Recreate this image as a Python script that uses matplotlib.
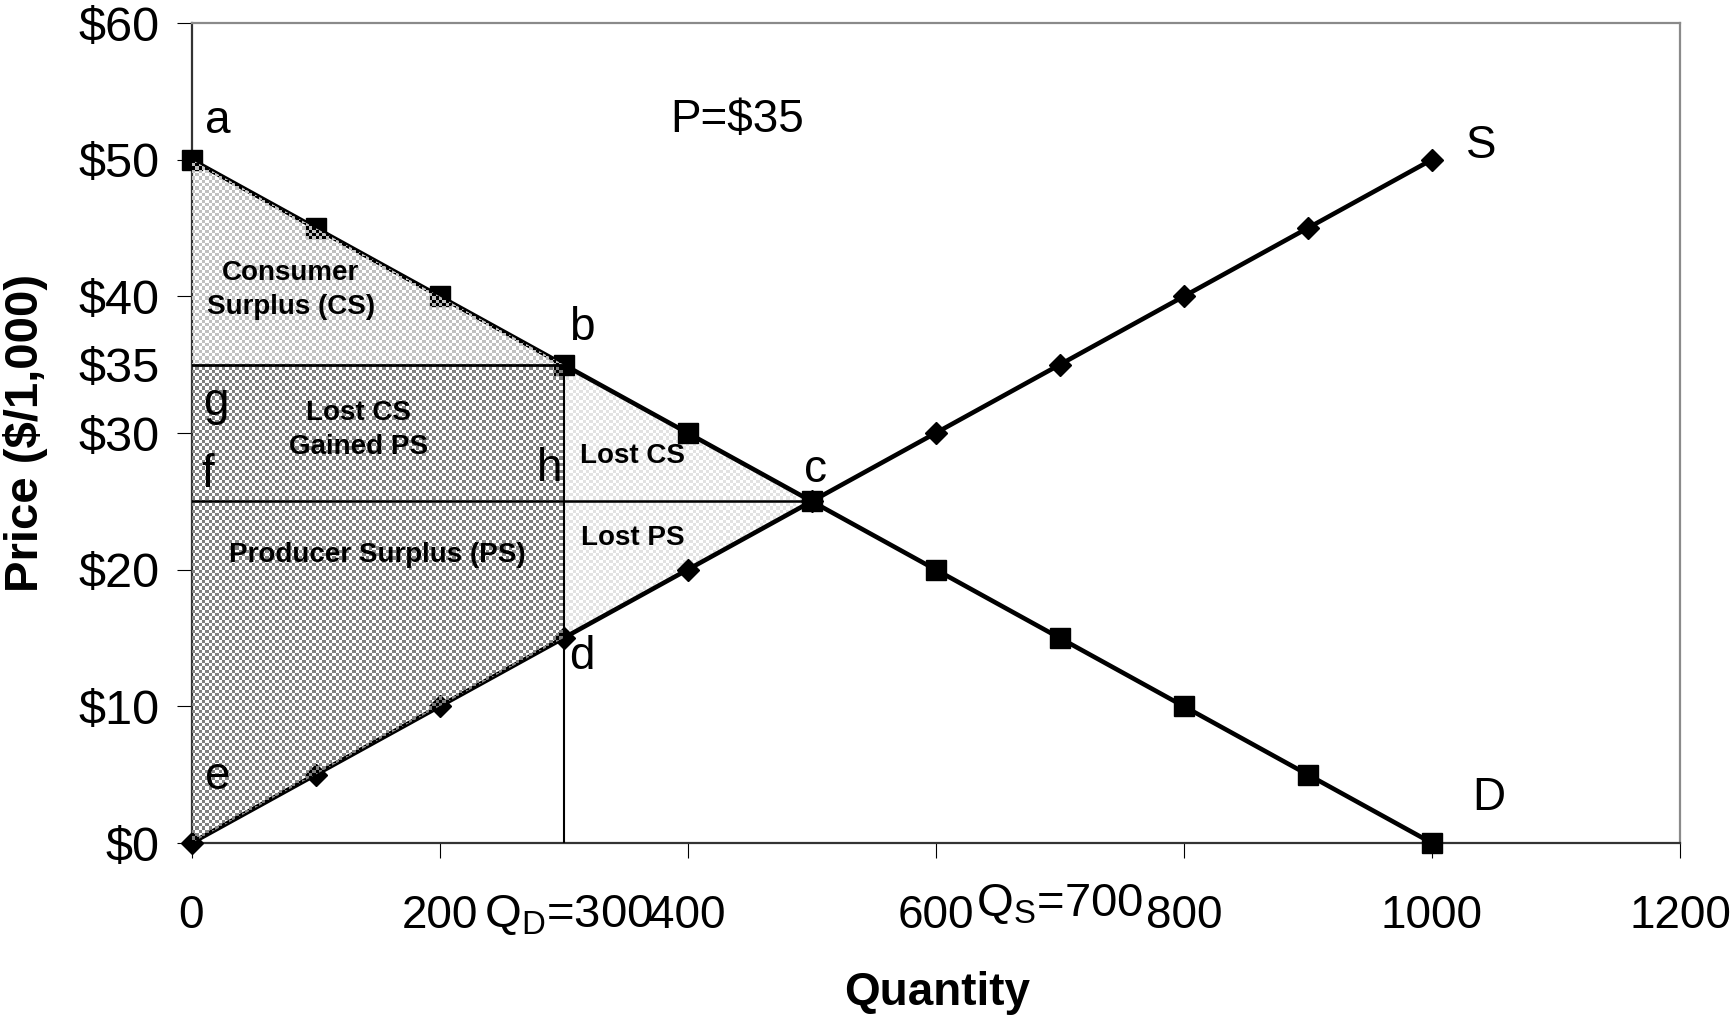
import numpy as np
import matplotlib
matplotlib.use("Agg")
import matplotlib.pyplot as plt
from matplotlib.patches import Polygon
from matplotlib.colors import ListedColormap

plt.rcParams["font.family"] = ["Liberation Sans", "DejaVu Sans"]
plt.rcParams["mathtext.fontset"] = "custom"
plt.rcParams["mathtext.rm"] = "Liberation Sans"
plt.rcParams["mathtext.it"] = "Liberation Sans:italic"
plt.rcParams["mathtext.bf"] = "Liberation Sans:bold"

# ---- data -------------------------------------------------------------
quantity = [0, 100, 200, 300, 400, 500, 600, 700, 800, 900, 1000]
demand_price = [50, 45, 40, 35, 30, 25, 20, 15, 10, 5, 0]
supply_price = [0, 5, 10, 15, 20, 25, 30, 35, 40, 45, 50]

floor_price = 35        # P = $35
q_demanded = 300        # Q_D at the floor price
q_supplied = 700        # Q_S at the floor price
eq_quantity = 500       # point c
eq_price = 25

y_ticks = [0, 10, 20, 30, 40, 50, 60]
y_tick_labels = ["$0", "$10", "$20", "$30", "$40", "$50", "$60"]
x_ticks = [0, 200, 400, 600, 800, 1000, 1200]
x_tick_labels = ["0", "200", "400", "600", "800", "1000", "1200"]

# ---- figure ------------------------------------------------------------
W, H = 1734, 1018
fig = plt.figure(figsize=(W / 100, H / 100), dpi=100)
ax_l, ax_r, ax_t, ax_b = 191.5, 1680, 23, 843
ax = fig.add_axes([ax_l / W, 1 - ax_b / H, (ax_r - ax_l) / W, (ax_b - ax_t) / H])
ax.set_xlim(0, 1200)
ax.set_ylim(0, 60)

d_at_qd = np.interp(q_demanded, quantity, demand_price)   # b
s_at_qd = np.interp(q_demanded, quantity, supply_price)   # d
top_p = demand_price[0]                                     # a
low_p = supply_price[0]                                     # e

# ---- dithered area fills ----------------------------------------------
cell = 3.33
ncols = int((ax_r - ax_l) / cell)
nrows = int((ax_b - ax_t) / cell)
board = np.add.outer(np.arange(nrows), np.arange(ncols)) % 2


def dither(verts, shade, z):
    poly = Polygon(verts, closed=True, facecolor="none", edgecolor="none")
    ax.add_patch(poly)
    im = ax.imshow(board, cmap=ListedColormap([(1, 1, 1, 0), shade]),
                   extent=(0, 1200, 0, 60), origin="lower", aspect="auto",
                   interpolation="nearest", zorder=z)
    im.set_clip_path(poly)


# lost consumer / producer surplus (deadweight loss) – faint
dither([(q_demanded, d_at_qd), (eq_quantity, eq_price), (q_demanded, eq_price)],
       "#e2e2e2", 1)
dither([(q_demanded, eq_price), (eq_quantity, eq_price), (q_demanded, s_at_qd)],
       "#e2e2e2", 1)

# supply / demand curves
ax.plot(quantity, demand_price, color="black", lw=3.3, marker="s", ms=14,
        clip_on=False, zorder=4)
ax.plot(quantity, supply_price, color="black", lw=3.3, marker="D", ms=11.5,
        clip_on=False, zorder=4)

# consumer surplus – light
dither([(0, top_p), (q_demanded, d_at_qd), (0, floor_price)], "#c0c0c0", 5)
# transfer rectangle + producer surplus – dark
dither([(0, floor_price), (q_demanded, floor_price), (q_demanded, s_at_qd),
        (0, low_p)], "#808080", 5)

# guide lines
ax.plot([0, q_demanded], [floor_price, floor_price], color="black", lw=2, zorder=6)
ax.plot([0, eq_quantity], [eq_price, eq_price], color="black", lw=1.8, zorder=6)
ax.plot([q_demanded, q_demanded], [0, floor_price], color="black", lw=1.5, zorder=6)

# ---- axes styling ------------------------------------------------------
for side in ("left", "bottom"):
    ax.spines[side].set_color("#333333")
    ax.spines[side].set_linewidth(1.6)
for side in ("top", "right"):
    ax.spines[side].set_color("#8a8a8a")
    ax.spines[side].set_linewidth(1.6)

ax.set_xticks(x_ticks)
ax.set_xticklabels(x_tick_labels)
ax.set_yticks(y_ticks)
ax.set_yticklabels(y_tick_labels)
ax.set_yticks([floor_price], minor=True)
ax.set_yticklabels([f"${floor_price}"], minor=True)
ax.tick_params(axis="both", which="major", direction="out", length=11,
               width=0.8, color="black")
ax.tick_params(axis="x", which="major", pad=26, labelsize=33)
ax.tick_params(axis="y", which="major", pad=12, labelsize=35)
ax.tick_params(axis="y", which="minor", length=0, labelsize=35, pad=23)

# Q_D and Q_S markers on the quantity axis
ax.annotate(r"Q$_{\mathregular{D}}$=" + str(q_demanded), xy=(q_demanded + 4, 91),
            xycoords=("data", "figure pixels"), ha="center", va="baseline",
            fontsize=34)
ax.annotate(r"Q$_{\mathregular{S}}$=" + str(q_supplied), xy=(q_supplied, 102),
            xycoords=("data", "figure pixels"), ha="center", va="baseline",
            fontsize=34)

fig.text(937 / W, 13 / H, "Quantity", ha="center", va="baseline",
         fontsize=33, fontweight="bold")
fig.text(26 / W, 1 - 433 / H, "Price ($/1,000)", ha="center", va="center",
         rotation=90, fontsize=34, fontweight="bold")

# ---- point letters -----------------------------------------------------
letters = [("a", 21, 52.8), ("b", 315, 37.7), ("c", 503, 27.3), ("d", 315, 13.6),
           ("e", 21, 4.8), ("f", 13, 26.9), ("g", 20, 32.2), ("h", 289, 27.4),
           ("S", 1040, 51.0), ("D", 1046, 3.3)]
for txt, x, y in letters:
    ax.text(x, y, txt, ha="center", va="center", fontsize=33, zorder=8)
ax.text(440, 52.9, f"P=${floor_price}", ha="center", va="center", fontsize=33,
        zorder=8)

# ---- area labels -------------------------------------------------------
bold = dict(ha="center", va="center", fontsize=20, fontweight="bold", zorder=8,
            linespacing=1.4)
ax.text(80, 40.5, "Consumer\nSurplus (CS)", **bold)
ax.text(134.5, 30.2, "Lost CS\nGained PS", **bold)
ax.text(355.6, 28.3, "Lost CS", **bold)
ax.text(355.6, 22.3, "Lost PS", **bold)
ax.text(149.6, 21.1, "Producer Surplus (PS)", **bold)

fig.savefig("out.png", dpi=100)
